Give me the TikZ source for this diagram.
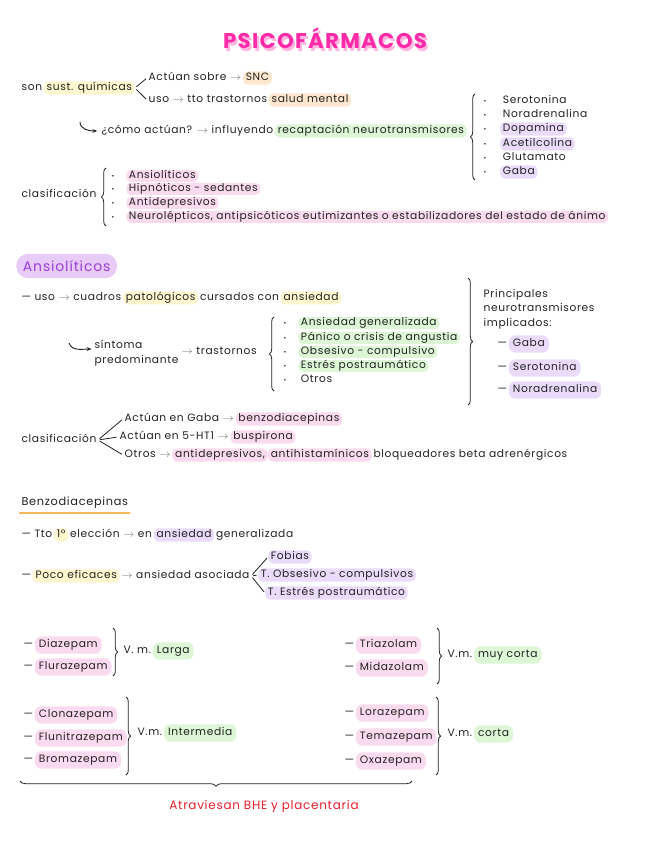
\documentclass[tikz,border=0pt]{standalone}
\usepackage{fontspec}
\setmainfont{Poppins}[LetterSpace=6]
\usepackage{tikz}
\usetikzlibrary{arrows.meta,decorations.pathreplacing}

\definecolor{ink}{HTML}{222222}
\definecolor{yel}{HTML}{FFF7CF}
\definecolor{pch}{HTML}{FDE7CF}
\definecolor{grn}{HTML}{DCF6D6}
\definecolor{lav}{HTML}{EBDBFA}
\definecolor{pnk}{HTML}{FADAEE}
\definecolor{tpink}{HTML}{FF2AA8}
\definecolor{tshadow}{HTML}{FFB5E0}
\definecolor{violet}{HTML}{9A3FD6}
\definecolor{pill}{HTML}{E8CCF7}
\definecolor{orng}{HTML}{F8B65A}
\definecolor{redt}{HTML}{E3202C}

\newcommand{\flecha}{{\color{gray}$\rightarrow$}}

\begin{document}
\begin{tikzpicture}[x=0.75pt,y=-0.75pt,
  txt/.style={anchor=west, inner xsep=1pt, inner ysep=1pt, text height=6.1pt, text depth=1.8pt, text=ink, font=\fontsize{8}{10}\selectfont},
  hl/.style={txt, fill=#1, rounded corners=3.5pt, inner xsep=2pt},
  pil/.style={txt, fill=#1, rounded corners=5pt, inner xsep=3pt, inner ysep=2.6pt},
  blk/.style={anchor=west, inner sep=1pt, align=left, text=ink, font=\fontsize{8}{11}\selectfont},
  dot/.style={txt, font=\fontsize{5}{6}\selectfont},
  br/.style={decorate, decoration={brace, amplitude=3.5pt}, line width=0.6pt, ink},
  tick/.style={line width=0.6pt, ink, shorten <=1.5pt, shorten >=1pt},
  hook/.style={-{Stealth[length=1.3mm]}, line width=0.7pt, ink}]
  \useasboundingbox (0,0) rectangle (656,848);

  % title
  \node[font=\fontsize{16}{19}\selectfont\bfseries, text=tshadow] (tsh) at (327,41) {PSICOFÁRMACOS};
  \node[font=\fontsize{16}{19}\selectfont\bfseries, text=tpink] (title) at (325,38) {PSICOFÁRMACOS};

  % son sust. quimicas
  \node[txt] (son) at (20,88) {son};
  \node[hl=yel] (quim) at (son.east) {sust. químicas};
  \node[txt] (sob) at (147,78) {Actúan sobre \flecha};
  \node[hl=pch] (snc) at (sob.east) {SNC};
  \node[txt] (uso) at (147,100) {uso \flecha\ tto trastornos};
  \node[hl=pch] (sal) at (uso.east) {salud mental};
  \draw[tick] (quim.east) -- (sob.west);
  \draw[tick] (quim.east) -- (uso.west);

  \coordinate (k1) at (80,122);
  \node[txt] (como) at (100,131) {¿cómo actúan? \flecha\ influyendo};
  \node[hl=grn] (recap) at (como.east) {recaptación neurotransmisores};
  \draw[hook] (k1) to[out=-90,in=180] ([xshift=-2pt]como.west);

  \draw[br] (475,180) -- (475,94);
  \foreach \n/\y/\lbl/\c in {1/101/Serotonina/white, 2/115/Noradrenalina/white, 3/129/Dopamina/lav, 4/144/Acetilcolina/lav, 5/158/Glutamato/white, 6/172/Gaba/lav}{
    \node[dot] (b\n) at (482,\y) {\textbullet};
    \node[hl=\c] (nt\n) at (500,\y) {\lbl};
  }

  % clasificacion
  \node[txt] (clas1) at (20,195) {clasificación};
  \draw[br] (106,226) -- (106,168);
  \foreach \n/\y/\lbl in {1/176/Ansiolíticos, 2/189/Hipnóticos - sedantes, 3/203/Antidepresivos, 4/217/{Neurolépticos, antipsicóticos eutimizantes o estabilizadores del estado de ánimo}}{
    \node[dot] (cb\n) at (110,\y) {\textbullet};
    \node[hl=pnk, inner ysep=0.5pt] (cl\n) at (126,\y) {\lbl};
  }

  % Ansioliticos
  \node[anchor=west, fill=pill, rounded corners=9pt, text=violet, font=\fontsize{10.5}{12}\selectfont, inner xsep=5pt, inner ysep=5pt] (ansio) at (16,266) {Ansiolíticos};

  \node[txt] (u1) at (20,298) {— uso \flecha\ cuadros};
  \node[hl=yel] (u2) at (u1.east) {patológicos};
  \node[txt] (u3) at (u2.east) {cursados con};
  \node[hl=yel] (u4) at (u3.east) {ansiedad};

  \coordinate (k2) at (69,343);
  \node[blk] (sin) at (93,353) {síntoma\\predominante};
  \draw[hook] (k2) to[out=-70,in=180] ([xshift=-1pt,yshift=3pt]sin.west);
  \node[txt] (tras) at (180,352) {\flecha\ trastornos};
  \draw[br] (274,391) -- (274,317);
  \foreach \n/\y/\lbl/\c in {1/323/Ansiedad generalizada/grn, 2/338/Pánico o crisis de angustia/grn, 3/352/Obsesivo - compulsivo/grn, 4/366/Estrés postraumático/grn, 5/380/Otros/white}{
    \node[dot] (tb\n) at (282,\y) {\textbullet};
    \node[hl=\c, inner ysep=0.5pt] (tr\n) at (298,\y) {\lbl};
  }

  \draw[br] (468,278) -- (468,405);
  \node[blk] (princ) at (482,309) {Principales\\neurotransmisores\\implicados:};
  \foreach \n/\y/\lbl in {1/344/Gaba, 2/368/Serotonina, 3/390/Noradrenalina}{
    \node[txt] (pd\n) at (496,\y) {—};
    \node[pil=lav] (pn\n) at (pd\n.east) {\lbl};
  }

  % clasificacion ansioliticos
  \node[txt] (clas2) at (20,440) {clasificación};
  \node[txt] (g1) at (123,419) {Actúan en Gaba \flecha};
  \node[hl=pnk] (g1b) at (g1.east) {benzodiacepinas};
  \node[txt] (g2) at (118,437) {Actúan en 5-HT1 \flecha};
  \node[hl=pnk] (g2b) at (g2.east) {buspirona};
  \node[txt] (g3) at (123,455) {Otros \flecha};
  \node[hl=pnk] (g3b) at (g3.east) {antidepresivos,};
  \node[hl=pnk] (g3c) at (g3b.east) {antihistamínicos};
  \node[txt] (g3d) at (g3c.east) {bloqueadores beta adrenérgicos};
  \draw[tick] (clas2.east) -- (g1.west);
  \draw[tick] (clas2.east) -- (g2.west);
  \draw[tick] (clas2.east) -- (g3.west);

  % Benzodiacepinas
  \node[anchor=west, inner sep=1pt, text=ink, font=\fontsize{8.5}{10}\selectfont] (benzo) at (20,503) {Benzodiacepinas};
  \draw[orng, line width=1.6pt, line cap=round] ([yshift=-2pt]benzo.south west) -- ([yshift=-2pt]benzo.south east);

  \node[txt] (e1) at (20,535) {— Tto};
  \node[hl=yel] (e2) at (e1.east) {1º};
  \node[txt] (e3) at (e2.east) {elección \flecha\ en};
  \node[hl=lav] (e4) at (e3.east) {ansiedad};
  \node[txt] (e5) at (e4.east) {generalizada};

  \node[txt] (p1) at (20,576) {—};
  \node[hl=yel] (p2) at (p1.east) {Poco eficaces};
  \node[txt] (asoc) at (p2.east) {\flecha\ ansiedad asociada};
  \node[hl=lav] (fob) at (268,557) {Fobias};
  \node[hl=lav] (obs) at (258,575) {T. Obsesivo - compulsivos};
  \node[hl=lav] (est) at (265,593) {T. Estrés postraumático};
  \draw[tick] (asoc.east) -- (fob.west);
  \draw[tick] (asoc.east) -- (obs.west);
  \draw[tick] (asoc.east) -- (est.west);

  % farmacos
  \foreach \n/\x/\y/\lbl in {1/22/645/Diazepam, 2/22/667/Flurazepam, 3/22/715/Clonazepam, 4/22/738/Flunitrazepam, 5/22/760/Bromazepam, 6/343/645/Triazolam, 7/343/668/Midazolam, 8/343/713/Lorazepam, 9/343/737/Temazepam, 10/343/761/Oxazepam}{
    \node[txt] (dd\n) at (\x,\y) {—};
    \node[pil=pnk] (dr\n) at (dd\n.east) {\lbl};
  }
  \draw[br] (113,628) -- (113,676);
  \draw[br] (126,697) -- (126,775);
  \draw[br] (437,628) -- (437,684);
  \draw[br] (436,697) -- (436,775);
  \node[txt] (vm1) at (122,651) {V. m.};
  \node[pil=grn] (vl1) at (vm1.east) {Larga};
  \node[txt] (vm2) at (136,733) {V.m.};
  \node[pil=grn] (vl2) at (vm2.east) {Intermedia};
  \node[txt] (vm3) at (446,655) {V.m.};
  \node[pil=grn] (vl3) at (vm3.east) {muy corta};
  \node[txt] (vm4) at (446,734) {V.m.};
  \node[pil=grn] (vl4) at (vm4.east) {corta};

  \draw[br, decoration={brace, amplitude=4pt}] (412,781) -- (20,781);
  \node[text=redt, font=\fontsize{9}{11}\selectfont] (bhe) at (264,806) {Atraviesan BHE y placentaria};
\end{tikzpicture}
\end{document}
